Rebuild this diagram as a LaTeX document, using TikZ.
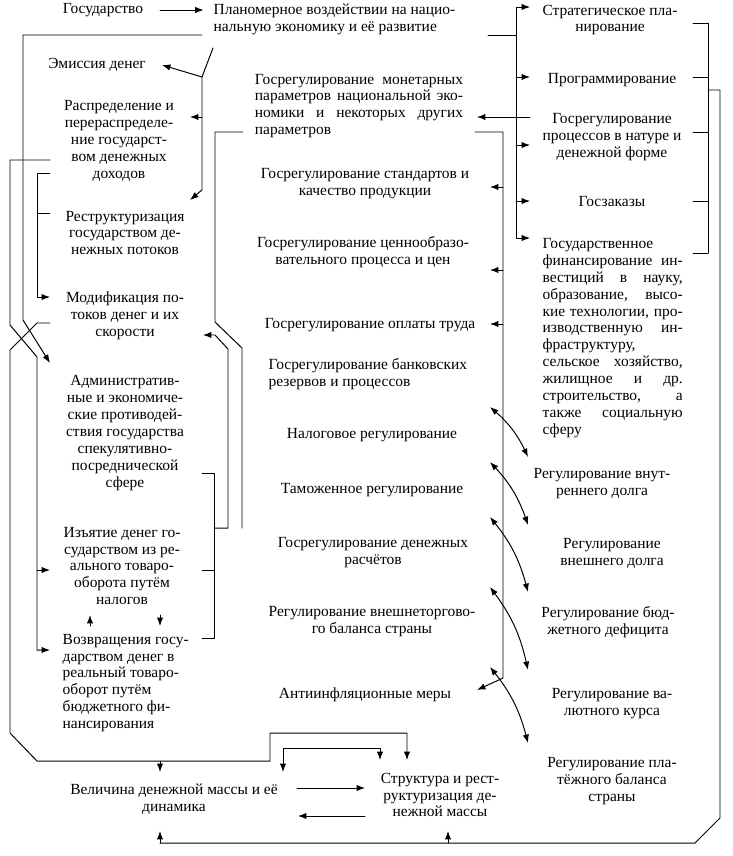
\documentclass[tikz,border=0pt]{standalone}
\usepackage{fontspec}
\setmainfont{Liberation Serif}
\usetikzlibrary{arrows.meta,calc}
\setlength{\parindent}{0pt}

\begin{document}
\begin{tikzpicture}[x=0.025cm,y=-0.025cm,line cap=round,line join=round,
  txt/.style={inner sep=1pt,align=center,font={\fontsize{11}{12}\selectfont}},
  lft/.style={txt,align=left},
  jst/.style={txt,align=justify,text width=#1},
  ln/.style={line width=.7pt},
  arr/.style={ln,-{Latex[length=6pt,width=4.5pt]}},
  dbl/.style={ln,{Latex[length=6pt,width=4.5pt]}-{Latex[length=6pt,width=4.5pt]}}]
  \useasboundingbox (0,0) rectangle (732,856);

  % left column
  \node[txt] (gos) at (103,10) {Государство};
  \node[lft,anchor=west] (plan) at (212,19) {Планомерное воздействии на нацио-\\нальную экономику и её развитие};
  \node[txt] (emis) at (97,65) {Эмиссия денег};
  \node[txt] (raspr) at (119,141) {Распределение и\\перераспределе-\\ние государст-\\вом денежных\\доходов};
  \node[txt] (restr) at (125,233) {Реструктуризация\\государством де-\\нежных потоков};
  \node[txt] (modif) at (125,316) {Модификация по-\\токов денег и их\\скорости};
  \node[txt] (admin) at (125,433) {Административ-\\ные и экономиче-\\ские противодей-\\ствия государства\\спекулятивно-\\посреднической\\сфере};
  \node[txt] (izyat) at (122,566) {Изъятие денег го-\\сударством из ре-\\ального товаро-\\оборота путём\\налогов};
  \node[lft,anchor=west] (vozvr) at (61,683) {Возвращения госу-\\дарством денег в\\реальный товаро-\\оборот путём\\бюджетного фи-\\нансирования};

  % middle column
  \node[jst=148pt] (monet) at (359,106) {Госрегулирование монетарных\linebreak параметров национальной эко-\linebreak номики и некоторых других\linebreak параметров};
  \node[txt] (stand) at (365,184) {Госрегулирование стандартов и\\качество продукции};
  \node[txt] (cen) at (363,252) {Госрегулирование ценнообразо-\\вательного процесса и цен};
  \node[txt] (oplat) at (370,325) {Госрегулирование оплаты труда};
  \node[lft,anchor=west] (bank) at (267,374) {Госрегулирование банковских\\резервов и процессов};
  \node[txt] (nalog) at (372,435) {Налоговое регулирование};
  \node[txt] (tamozh) at (372,490) {Таможенное регулирование};
  \node[txt] (rasch) at (373,553) {Госрегулирование денежных\\расчётов};
  \node[txt] (vnesht) at (372,622) {Регулирование внешнеторгово-\\го баланса страны};
  \node[txt] (antiinf) at (365,695) {Антиинфляционные меры};

  % right column
  \node[txt] (strat) at (610,20) {Стратегическое пла-\\нирование};
  \node[txt] (progr) at (612,80) {Программирование};
  \node[txt] (natur) at (612,137) {Госрегулирование\\процессов в натуре и\\денежной форме};
  \node[txt] (zakaz) at (612,202) {Госзаказы};
  \node[jst=99.6pt,anchor=west] (finans) at (541,338) {Государственное\linebreak финансирование ин-\linebreak вестиций в науку,\linebreak образование, высо-\linebreak кие технологии, про-\linebreak изводственную ин-\linebreak фраструктуру,\linebreak сельское хозяйство,\linebreak жилищное и др.\linebreak строительство, а\linebreak также социальную\linebreak сферу};
  \node[txt] (vnutr) at (602,484) {Регулирование внут-\\реннего долга};
  \node[txt] (vneshd) at (612,553) {Регулирование\\внешнего долга};
  \node[txt] (budzh) at (608,622) {Регулирование бюд-\\жетного дефицита};
  \node[txt] (valut) at (612,704) {Регулирование ва-\\лютного курса};
  \node[txt] (plat) at (612,781) {Регулирование пла-\\тёжного баланса\\страны};

  % bottom
  \node[txt] (velich) at (174,799) {Величина денежной массы и её\\динамика};
  \node[txt] (strukt) at (440,795) {Структура и рест-\\руктуризация де-\\нежной массы};

  % junctions
  \coordinate (split) at (202,77);
  \coordinate (busM) at (503,132);
  \coordinate (busR) at (516,35);
  \coordinate (loop) at (720,90);

  \draw[arr,shorten <=11pt,shorten >=6pt] (gos.east) -- (gos.east -| plan.west);
  \draw[ln] (213,48) -- (split);
  \draw[arr] (split) -- (162,65);
  \draw[arr] (split) -- (202,190) -- (190,200);
  \draw[arr] (202,117) -- (190,117);
  \draw[arr] (202,35) -- (23,35) -- (23,320) -- (50,363);

  % left buses
  \draw[arr] (50,173) -- (37,173) -- (37,297) -- (50,297);
  \draw[ln] (37,213) -- (50,213);
  \draw[arr] (50,160) -- (10,160) -- (10,325) -- (37,357) -- (37,650) -- (50,650);
  \draw[arr] (37,570) -- (50,570);
  \draw[arr] (50,323) -- (37,323) -- (10,350) -- (10,733) -- (37,761) -- (270,761) -- (270,733) -- (407,733) -- (407,760);
  \draw[arr] (160,761) -- (160,772);
  \draw[arr] (90,626) -- (90,615);
  \draw[arr] (160,615) -- (160,626);

  % bracket admin / izyat / vozvr
  \draw[ln] (202,473) -- (214,473) -- (214,638) -- (202,638);
  \draw[ln] (202,570) -- (214,570);
  \draw[arr] (214,528) -- (228,528) -- (228,349) -- (215,335) -- (203,335);
  \draw[ln] (243,132) -- (215,132) -- (215,322) -- (242,348) -- (242,528);

  % right buses
  \draw[ln] (488,35) -- (busR);
  \draw[arr] (busR) -- (516,7) -- (530,7);
  \draw[arr] (busR) -- (516,238) -- (530,238);
  \foreach \y in {77,145,201} \draw[arr] (516,\y) -- (530,\y);
  \draw[arr] (530,117) -- (477,117);
  \draw[arr] (475,132) -- (busM) -- (503,678) -- (477,690);
  \foreach \y in {187,270,324} \draw[arr] (503,\y) -- (490,\y);

  \foreach \y in {23,77,132,201,253} \draw[ln] (693,\y) -- (708,\y);
  \draw[ln] (708,23) -- (708,253);
  \draw[ln] (708,90) -- (loop) -- (720,818) -- (695,843) -- (160,843);
  \draw[arr] (160,843) -- (160,831);
  \draw[arr] (448,843) -- (448,831);

  \foreach \a/\b in {407/457,462/525,517/592,587/670,667/743}
    \draw[dbl] (490,\a) to[bend left=12] (528,\b);

  \draw[dbl] (283,772) -- (283,748) -- (380,748) -- (380,760);
  \draw[arr] (297,788) -- (365,788);
  \draw[arr] (365,816) -- (298,816);
\end{tikzpicture}
\end{document}
